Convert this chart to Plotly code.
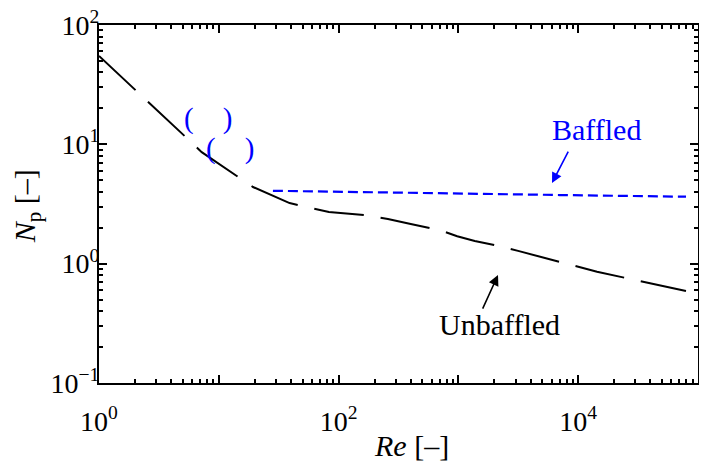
import math
import plotly.graph_objects as go

# ---- data ----
re_unbaffled = [1, 3.63, 5.4, 7.2, 19.3, 39, 83, 163, 258, 400, 702, 977, 1370, 2140, 3150, 14360, 79400]
np_unbaffled = [55, 16.6, 11.3, 8.6, 4.39, 3.22, 2.71, 2.56, 2.37, 2.15, 1.91, 1.70, 1.55, 1.41, 1.28, 0.855, 0.59]

re_baffled = [28.3, 82, 700, 3000, 7000, 79400]
np_baffled = [4.08, 4.03, 3.93, 3.81, 3.76, 3.64]

x_label_vals = [1, 100, 10000]
x_label_text = ["10<sup>0</sup>", "10<sup>2</sup>", "10<sup>4</sup>"]
x_unlabeled_vals = [10, 1000, 100000]
y_tick_vals = [0.1, 1, 10, 100]
y_tick_text = ["10<sup>−1</sup>", "10<sup>0</sup>", "10<sup>1</sup>", "10<sup>2</sup>"]

FONT = "Liberation Serif"
BLUE = "#0000ff"

def minor_vals(lo, hi):
    out = []
    for e in range(lo, hi):
        for m in range(2, 10):
            out.append(m * 10 ** e)
    return out

fig = go.Figure()
fig.add_trace(go.Scatter(x=re_unbaffled, y=np_unbaffled, mode="lines",
                         line=dict(color="black", width=2, dash="50px,17px"),
                         showlegend=False))
fig.add_trace(go.Scatter(x=re_baffled, y=np_baffled, mode="lines", xaxis="x2",
                         line=dict(color=BLUE, width=2.2, dash="10px,5px"),
                         showlegend=False))

L = math.log10
paren = "(\u00a0\u00a0\u00a0\u00a0)"
annotations = [
    # blue parentheses
    dict(x=L(8.1), y=L(16.6), text=paren, showarrow=False,
         xanchor="center", yanchor="middle",
         font=dict(family=FONT, size=29, color=BLUE)),
    dict(x=L(12.4), y=L(9.3), text=paren, showarrow=False,
         xanchor="center", yanchor="middle",
         font=dict(family=FONT, size=29, color=BLUE)),
    # labels
    dict(x=L(14100), y=1.128, text="Baffled", showarrow=False,
         xanchor="center", yanchor="middle",
         font=dict(family=FONT, size=30, color=BLUE)),
    dict(x=3.34, y=-0.506, text="Unbaffled", showarrow=False,
         xanchor="center", yanchor="middle",
         font=dict(family=FONT, size=30, color="black")),
    # arrows
    dict(x=(552 - 99) / 119.8, y=2 - (183 - 25) / 119.3, text="", showarrow=True,
         ax=17, ay=-33, arrowhead=2, arrowsize=1.3, arrowwidth=1.6,
         arrowcolor=BLUE, standoff=0),
    dict(x=(498 - 99) / 119.8, y=2 - (275 - 25) / 119.3, text="", showarrow=True,
         ax=-16, ay=35, arrowhead=2, arrowsize=1.3, arrowwidth=1.6,
         arrowcolor="black", standoff=0),
    # axis titles
    dict(xref="paper", yref="paper", x=0.521, y=-0.174, text="<i>Re</i> [–]",
         xanchor="center", yanchor="middle",
         showarrow=False, font=dict(family=FONT, size=30, color="black")),
    dict(xref="paper", yref="paper", x=-0.120, y=0.494, text="<i>N</i><sub>p</sub> [–]",
         xanchor="center", yanchor="middle",
         textangle=-90, showarrow=False, font=dict(family=FONT, size=30, color="black")),
]

axis_common = dict(
    showline=True, linecolor="black", linewidth=2, mirror="ticks",
    ticks="inside", ticklen=8, tickwidth=1.5, tickcolor="black",
    showgrid=False, zeroline=False, automargin=False,
    ticklabeloverflow="allow",
    tickfont=dict(family=FONT, size=28, color="black"),
)
minor_common = dict(ticks="inside", ticklen=4, tickwidth=1.5, tickcolor="black", showgrid=False)

fig.update_layout(
    width=707, height=463,
    # the page body adds an 8px offset, so margins are shifted to compensate
    margin=dict(l=91, r=17, t=17, b=88),
    plot_bgcolor="white", paper_bgcolor="white",
    font=dict(family=FONT, size=28, color="black"),
    annotations=annotations,
    showlegend=False,
    xaxis=dict(type="log", range=[0, 5], tickmode="array",
               tickvals=x_label_vals, ticktext=x_label_text,
               minor=dict(tickvals=minor_vals(0, 5), **minor_common),
               ticklabelstandoff=12, **axis_common),
    xaxis2=dict(type="log", range=[0, 5], overlaying="x", side="bottom",
                tickmode="array", tickvals=x_unlabeled_vals, showticklabels=False,
                **axis_common),
    yaxis=dict(type="log", range=[-1, 2], tickmode="array",
               tickvals=y_tick_vals, ticktext=y_tick_text,
               minor=dict(tickvals=minor_vals(-1, 2), **minor_common),
               ticklabelstandoff=-8, **axis_common),
)

fig.write_html("out.html")
